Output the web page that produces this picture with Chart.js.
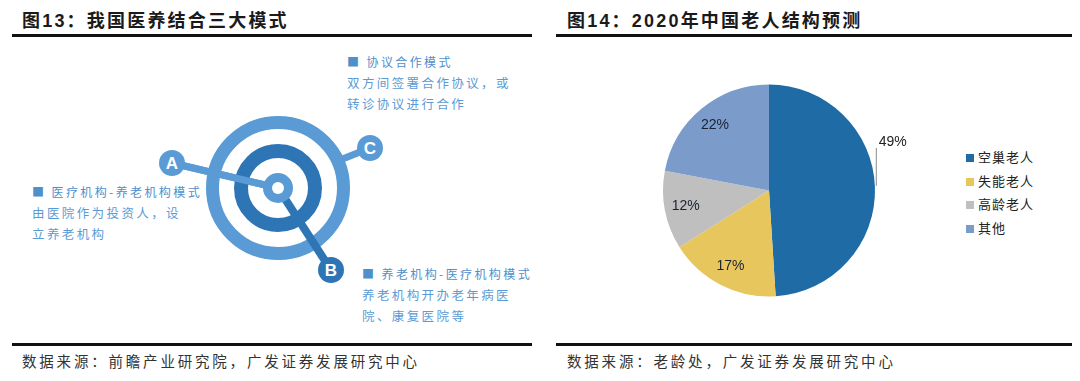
<!DOCTYPE html>
<html><head><meta charset="utf-8">
<script src="https://cdn.jsdelivr.net/npm/chart.js@4/dist/chart.umd.min.js"></script>
<style>
html,body{margin:0;padding:0;background:#fff;width:1080px;height:381px;overflow:hidden;font-family:"Noto Sans CJK SC",sans-serif;}
.abs{position:absolute;white-space:nowrap;}
.title{font-weight:bold;font-size:18px;color:#1a1a1a;letter-spacing:2.2px;font-family:Arial,"Liberation Sans","Noto Sans CJK SC",sans-serif;}
.rule{position:absolute;height:3px;background:#111;}
.src{font-size:14.5px;color:#333;letter-spacing:2.8px;}
.diag{font-size:12.5px;color:#5b9bd5;letter-spacing:2.4px;line-height:21px;}
.diag .h{color:#4f8fcc;font-size:12px;}
.leg{font-size:13px;color:#222;letter-spacing:1px;}
.leg span.sq{display:inline-block;width:8px;height:8px;margin-right:4px;vertical-align:0px;}
</style></head><body>
<div class="abs title" style="left:22px;top:6px;">图13：我国医养结合三大模式</div>
<div class="rule" style="left:12px;top:34px;width:520px;"></div>
<div class="abs title" style="left:567px;top:6px;">图14：2020年中国老人结构预测</div>
<div class="rule" style="left:556px;top:34px;width:516px;"></div>
<div class="rule" style="left:12px;top:343px;width:520px;"></div>
<div class="rule" style="left:556px;top:343px;width:516px;"></div>
<div class="abs src" style="left:22px;top:350px;">数据来源：前瞻产业研究院，广发证券发展研究中心</div>
<div class="abs src" style="left:567px;top:350px;">数据来源：老龄处，广发证券发展研究中心</div>

<svg class="abs" style="left:0;top:0" width="540" height="340">
  <line x1="172" y1="163" x2="278" y2="188" stroke="#5b9bd5" stroke-width="7"/>
  <line x1="340" y1="160" x2="370" y2="148" stroke="#5b9bd5" stroke-width="7"/>
  <circle cx="278" cy="188" r="65.5" fill="none" stroke="#5b9bd5" stroke-width="13"/>
  <circle cx="278" cy="188" r="37" fill="none" stroke="#2e75b6" stroke-width="14"/>
  <line x1="278" y1="188" x2="331" y2="270" stroke="#2e75b6" stroke-width="8"/>
  <line x1="172" y1="163" x2="278" y2="188" stroke="#5b9bd5" stroke-width="7"/>
  <circle cx="278" cy="188" r="15" fill="#5b9bd5"/>
  <circle cx="278" cy="188" r="6" fill="#fff"/>
  <circle cx="172" cy="163" r="13" fill="#5b9bd5"/>
  <circle cx="370" cy="148" r="13" fill="#5b9bd5"/>
  <circle cx="331" cy="270" r="13" fill="#2e75b6"/>
  <text x="172" y="169" fill="#fff" font-family="Arial,Liberation Sans" font-weight="bold" font-size="17" text-anchor="middle">A</text>
  <text x="370" y="154" fill="#fff" font-family="Arial,Liberation Sans" font-weight="bold" font-size="17" text-anchor="middle">C</text>
  <text x="331" y="276" fill="#fff" font-family="Arial,Liberation Sans" font-weight="bold" font-size="17" text-anchor="middle">B</text>
</svg>

<div class="abs diag" style="left:347px;top:51px;"><span class="h">■ 协议合作模式</span><br>双方间签署合作协议，或<br>转诊协议进行合作</div>
<div class="abs diag" style="left:32px;top:181px;"><span class="h">■ 医疗机构-养老机构模式</span><br>由医院作为投资人，设<br>立养老机构</div>
<div class="abs diag" style="left:362px;top:263px;"><span class="h">■ 养老机构-医疗机构模式</span><br>养老机构开办老年病医<br>院、康复医院等</div>

<div class="abs" style="left:640px;top:70px;width:280px;height:240px;"><canvas id="pie" width="280" height="240"></canvas></div>
<div class="abs leg" id="legend" style="left:966px;top:145px;line-height:23.5px;"></div>

<script>
const categories = ["空巢老人","失能老人","高龄老人","其他"];
const values = [49, 17, 12, 22];
const colors = ["#1f6ba6","#e8c65e","#bfbfbf","#7b9ccb"];

const leg = document.getElementById('legend');
categories.forEach((c,i)=>{
  const d=document.createElement('div');
  d.innerHTML='<span class="sq" style="background:'+colors[i]+'"></span>'+c;
  leg.appendChild(d);
});

const labelPlugin = {
  id:'pctLabels',
  afterDatasetsDraw(chart){
    const ctx=chart.ctx;
    const meta=chart.getDatasetMeta(0);
    ctx.save();
    ctx.font='14px Arial, "Liberation Sans", sans-serif';
    ctx.textAlign='center';ctx.textBaseline='middle';
    meta.data.forEach((arc,i)=>{
      const p=arc.getProps(['x','y','startAngle','endAngle','outerRadius'],true);
      const mid=(p.startAngle+p.endAngle)/2;
      if(i===0){
        const a=p.startAngle+(p.endAngle-p.startAngle)*0.49;
        const ex=p.x+p.outerRadius*Math.cos(a);
        const ey=p.y+p.outerRadius*Math.sin(a);
        ctx.strokeStyle='#8a8a8a';ctx.lineWidth=1;
        ctx.beginPath();ctx.moveTo(ex+1.5,ey+2);ctx.lineTo(ex+1.5,ey-36);ctx.stroke();
        ctx.fillStyle='#222';
        ctx.fillText(values[i]+'%',ex+18,ey-42);
      } else {
        const r=p.outerRadius*0.8;
        ctx.fillStyle='#1c2233';
        ctx.fillText(values[i]+'%',p.x+r*Math.cos(mid),p.y+r*Math.sin(mid));
      }
    });
    ctx.restore();
  }
};

new Chart(document.getElementById('pie'),{
  type:'pie',
  data:{labels:categories,datasets:[{data:values,backgroundColor:colors,borderWidth:0}]},
  options:{responsive:false,animation:false,
    layout:{padding:{left:23,right:45,top:14.5,bottom:13.5}},
    plugins:{legend:{display:false},tooltip:{enabled:false}}},
  plugins:[labelPlugin]
});
</script>
</body></html>
